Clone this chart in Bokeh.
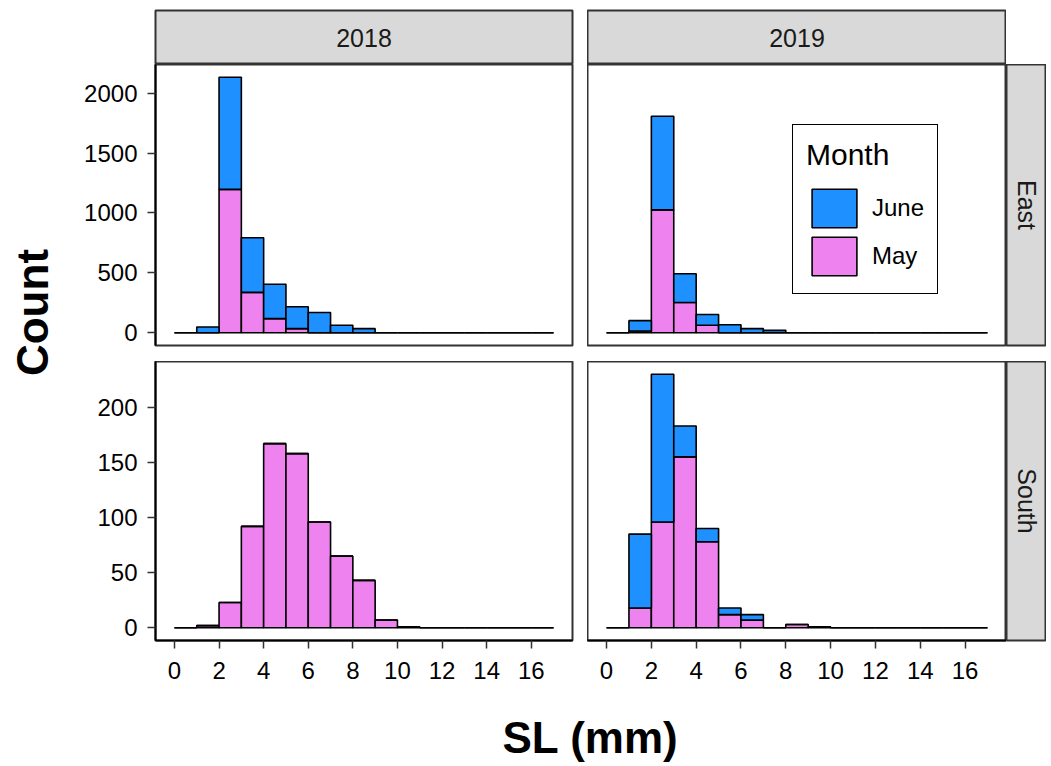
import math
from bokeh.plotting import figure
from bokeh.layouts import row, column
from bokeh.models import Range1d, FixedTicker, Legend, LegendItem
from bokeh.core.properties import value
from bokeh.embed import file_html
from bokeh.resources import INLINE

# ---------------- data ----------------
bin_edges = list(range(0, 18))          # 1 mm bins from 0 to 17
years = ["2018", "2019"]
regions = ["East", "South"]
months = ["June", "May"]
x_ticks = [0, 2, 4, 6, 8, 10, 12, 14, 16]
y_ticks_east = [0, 500, 1000, 1500, 2000]
y_ticks_south = [0, 50, 100, 150, 200]

may_east_2018 = [0, 0, 1197, 337, 118, 34, 0, 0, 0, 0, 0, 0, 0, 0, 0, 0, 0]
june_east_2018 = [0, 48, 936, 456, 287, 183, 169, 62, 34, 0, 0, 0, 0, 0, 0, 0, 0]
may_east_2019 = [0, 15, 1026, 253, 62, 0, 0, 0, 0, 0, 0, 0, 0, 0, 0, 0, 0]
june_east_2019 = [0, 86, 781, 239, 90, 67, 34, 20, 0, 0, 0, 0, 0, 0, 0, 0, 0]
may_south_2018 = [0, 2, 23, 92, 167, 158, 96, 65, 43, 7, 1, 0, 0, 0, 0, 0, 0]
june_south_2018 = [0, 0, 0, 0, 0, 0, 0, 0, 0, 0, 0, 0, 0, 0, 0, 0, 0]
may_south_2019 = [0, 18, 96, 155, 78, 12, 7, 0, 3, 1, 0, 0, 0, 0, 0, 0, 0]
june_south_2019 = [0, 67, 134, 28, 12, 6, 5, 0, 0, 0, 0, 0, 0, 0, 0, 0, 0]

COL_JUNE = "#1E90FF"
COL_MAY = "#EE82EE"
FONT = "Liberation Sans"
BORDER = "#333333"
STRIP_FILL = "#D9D9D9"

# ---------------- geometry ----------------
COUNT_W = 70
LEFT_MB = 85
GAP = 15
FW_L = 417
FW_R = 419
STRIP_W = 40
STRIP_TOP = 10
STRIP_H = 54
FH_TOP = 281
VGAP = 16
FH_BOT = 279
XAX_H = 52
XLAB_H = 72


def total(a, b):
    return [x + y for x, y in zip(a, b)]


def base_fig(width, height, mb_l=0, mb_r=0, mb_t=0, mb_b=0, **kw):
    p = figure(width=width, height=height, toolbar_location=None,
               output_backend="svg", min_border_left=mb_l, min_border_right=mb_r,
               min_border_top=mb_t, min_border_bottom=mb_b, **kw)
    p.grid.visible = False
    p.background_fill_color = "white"
    p.border_fill_color = "white"
    return p


def panel(may, june, ymax, show_x, show_y, yticks, fw, fh, mb_l, mb_r, mb_b):
    p = base_fig(mb_l + fw + mb_r, fh + mb_b, mb_l, mb_r, 0, mb_b,
                 x_range=Range1d(-0.85, 17.85),
                 y_range=Range1d(-0.05 * ymax, 1.05 * ymax),
                 x_axis_location="below" if show_x else None,
                 y_axis_location="left" if show_y else None)
    p.outline_line_color = BORDER
    p.outline_line_width = 2
    left = bin_edges[:-1]
    right = bin_edges[1:]
    r_may = p.quad(left=left, right=right, bottom=[0] * len(may), top=may,
                   fill_color=COL_MAY, line_color="black", line_width=1.6)
    r_june = p.quad(left=left, right=right, bottom=may, top=total(may, june),
                    fill_color=COL_JUNE, line_color="black", line_width=1.6)
    for ax in p.axis:
        ax.axis_line_color = "black"
        ax.axis_line_width = 2
        ax.major_tick_line_color = BORDER
        ax.major_tick_line_width = 1.5
        ax.major_tick_out = 8
        ax.major_tick_in = 0
        ax.minor_tick_line_color = None
        ax.major_label_text_font = FONT
        ax.major_label_text_font_size = "24px"
        ax.major_label_text_color = "black"
        ax.major_label_standoff = 10
    if show_x:
        p.xaxis.ticker = FixedTicker(ticks=x_ticks)
        p.xaxis.major_label_standoff = 13
    if show_y:
        p.yaxis.ticker = FixedTicker(ticks=yticks)
    return p, r_may, r_june


def strip(label, width, height, mb_t=0, mb_b=0, vertical=False):
    p = base_fig(width, height, 0, 0, mb_t, mb_b,
                 x_range=Range1d(0, 1), y_range=Range1d(0, 1),
                 x_axis_location=None, y_axis_location=None)
    p.background_fill_color = STRIP_FILL
    p.outline_line_color = BORDER
    p.outline_line_width = 2
    p.text(x=[0.5], y=[0.5], text=[label], text_align="center",
           text_baseline="middle", angle=(-math.pi / 2 if vertical else 0),
           text_font=value(FONT), text_font_size="25px", text_color="#1A1A1A")
    return p


east_max = max(total(may_east_2018, june_east_2018) + total(may_east_2019, june_east_2019))
south_max = max(total(may_south_2018, june_south_2018) + total(may_south_2019, june_south_2019))

# strips on top
s18 = strip(years[0], LEFT_MB + FW_L + GAP, STRIP_TOP + STRIP_H, mb_t=STRIP_TOP)
s18.min_border_left = LEFT_MB
s18.min_border_right = GAP
s19 = strip(years[1], FW_R, STRIP_TOP + STRIP_H, mb_t=STRIP_TOP)

# panels
p_e18, _, _ = panel(may_east_2018, june_east_2018, east_max, False, True, y_ticks_east,
                    FW_L, FH_TOP, LEFT_MB, GAP, VGAP)
p_e19, rm, rj = panel(may_east_2019, june_east_2019, east_max, False, False, None,
                      FW_R, FH_TOP, 0, 0, VGAP)
p_s18, _, _ = panel(may_south_2018, june_south_2018, south_max, True, True, y_ticks_south,
                    FW_L, FH_BOT, LEFT_MB, GAP, XAX_H)
p_s19, _, _ = panel(may_south_2019, june_south_2019, south_max, True, False, None,
                    FW_R, FH_BOT, 0, 0, XAX_H)

st_e = strip(regions[0], STRIP_W, FH_TOP + VGAP, mb_b=VGAP, vertical=True)
st_s = strip(regions[1], STRIP_W, FH_BOT + XAX_H, mb_b=XAX_H, vertical=True)

# legend
legend = Legend(items=[LegendItem(label=months[0], renderers=[rj]),
                       LegendItem(label=months[1], renderers=[rm])],
                location=(205, 51), title="Month",
                title_text_font=FONT, title_text_font_size="30px",
                title_text_font_style="normal", title_text_color="black",
                title_standoff=12,
                label_text_font=FONT, label_text_font_size="24px",
                label_text_color="black",
                glyph_width=56, glyph_height=48, label_height=48,
                label_standoff=10, spacing=0, padding=13, margin=0,
                border_line_color="black", border_line_width=1.6,
                border_line_alpha=1,
                background_fill_color="white", background_fill_alpha=1)
p_e19.add_layout(legend, "center")

# x title
total_w = LEFT_MB + FW_L + GAP + FW_R + STRIP_W
xl = base_fig(total_w, XLAB_H, x_range=Range1d(0, total_w), y_range=Range1d(XLAB_H, 0),
              x_axis_location=None, y_axis_location=None)
xl.outline_line_color = None
xl.text(x=[520], y=[45], text=["SL (mm)"], text_align="center", text_baseline="middle",
        text_font=value(FONT), text_font_size="44px", text_font_style="bold",
        text_color="black")

# y title
total_h = STRIP_TOP + STRIP_H + FH_TOP + VGAP + FH_BOT + XAX_H + XLAB_H
yl = base_fig(COUNT_W, total_h, x_range=Range1d(0, COUNT_W), y_range=Range1d(total_h, 0),
              x_axis_location=None, y_axis_location=None)
yl.outline_line_color = None
yl.text(x=[32], y=[312], text=["Count"], text_align="center", text_baseline="middle",
        angle=math.pi / 2, text_font=value(FONT), text_font_size="44px",
        text_font_style="bold", text_color="black")

layout = row(yl, column(
    row(s18, s19),
    row(p_e18, p_e19, st_e),
    row(p_s18, p_s19, st_s),
    xl,
))

open("out.html", "w").write(file_html(layout, INLINE))
